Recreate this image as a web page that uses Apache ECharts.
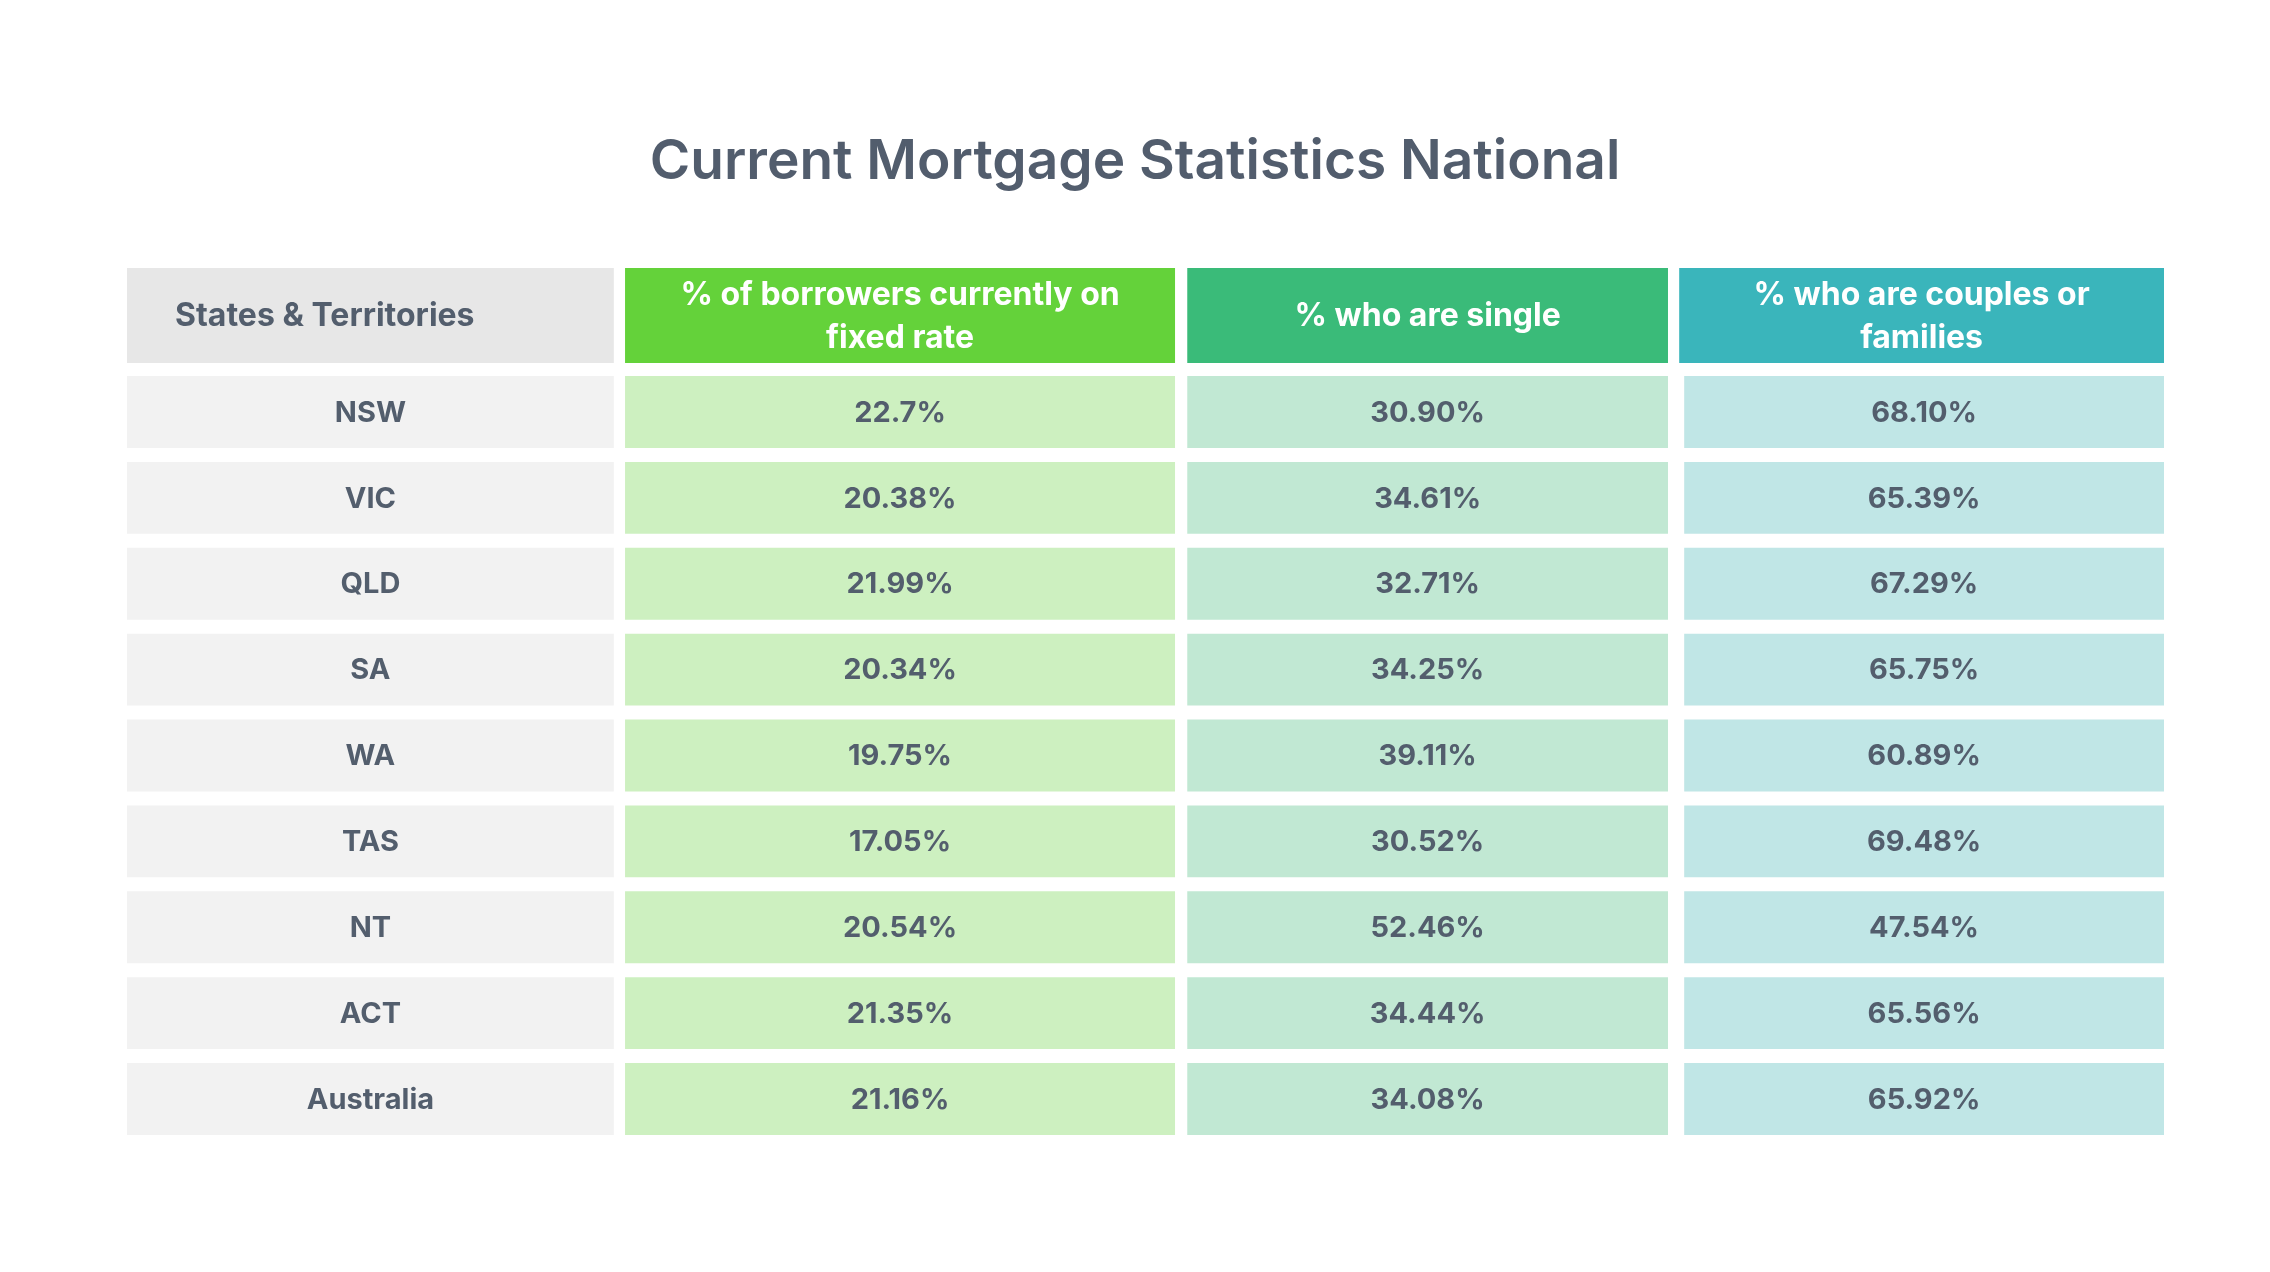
<!DOCTYPE html>
<html>
<head>
<meta charset="utf-8">
<title>Current Mortgage Statistics National</title>
<style>
  html, body { margin: 0; padding: 0; background: #ffffff; }
  #chart { width: 2270px; height: 1272px; }
</style>
</head>
<body>
<div id="chart"></div>
<script src="https://cdn.jsdelivr.net/npm/echarts@6/dist/echarts.min.js"></script>
<script>
// table data
var headers = ['States & Territories', '% of borrowers currently on\nfixed rate', '% who are single', '% who are couples or\nfamilies'];
var states = ['NSW', 'VIC', 'QLD', 'SA', 'WA', 'TAS', 'NT', 'ACT', 'Australia'];
var fixedRate = [22.7, 20.38, 21.99, 20.34, 19.75, 17.05, 20.54, 21.35, 21.16];
var single = [30.90, 34.61, 32.71, 34.25, 39.11, 30.52, 52.46, 34.44, 34.08];
var couples = [68.10, 65.39, 67.29, 65.75, 60.89, 69.48, 47.54, 65.56, 65.92];

// layout: column spans in % of table width, colours per column
var colSpan = [[0, 23.9], [24.45, 51.45], [52.05, 75.65], [76.2, 100]];
var headFill = ['#e7e7e7', '#64d23a', '#3abb79', '#3ab5bb'];
var bodyFill = ['#f2f2f2', '#cdf0c0', '#c1e8d3', '#c0e6e6'];
var textColor = '#535e6d';
var FONT = 'Inter, "Open Sans", sans-serif';

function fmt(v, col) {
  if (col === 1) return String(v) + '%';
  return v.toFixed(2) + '%';
}

// body cells: [col, row, text]
var bodyCells = [];
states.forEach(function (s, r) {
  bodyCells.push([0, r, s]);
  bodyCells.push([1, r, fmt(fixedRate[r], 1)]);
  bodyCells.push([2, r, fmt(single[r], 2)]);
  bodyCells.push([3, r, fmt(couples[r], 3)]);
});
var headCells = headers.map(function (h, i) { return [i, 0, h]; });

function cellRenderer(isHead) {
  return function (params, api) {
    var col = api.value(0);
    var row = api.value(1);
    var txt = isHead ? headCells[params.dataIndex][2] : bodyCells[params.dataIndex][2];
    var x0 = api.coord([colSpan[col][0], row])[0];
    var x1 = api.coord([colSpan[col][1], row])[0];
    var yc = api.coord([0, row])[1];
    var bandH = api.size([0, 1])[1];
    var h = isHead ? bandH : bandH - 14;
    if (!isHead && col === 3) x0 += 5;
    var leftHead = isHead && col === 0;
    return {
      type: 'group',
      children: [{
        type: 'rect',
        shape: { x: x0, y: yc - h / 2, width: x1 - x0, height: h },
        style: { fill: isHead ? headFill[col] : bodyFill[col] }
      }, {
        type: 'text',
        style: {
          text: txt,
          x: leftHead ? x0 + 48 : (x0 + x1) / 2,
          y: yc + 1,
          align: leftHead ? 'left' : 'center',
          verticalAlign: 'middle',
          fill: isHead && col > 0 ? '#ffffff' : textColor,
          font: '700 ' + (isHead ? 32 : 29) + 'px ' + FONT,
          lineHeight: 43
        }
      }]
    };
  };
}

var chart = echarts.init(document.getElementById('chart'));
chart.setOption({
  backgroundColor: '#ffffff',
  animation: false,
  title: {
    text: 'Current Mortgage Statistics National',
    left: 'center',
    top: 130,
    textStyle: { color: '#525d6d', fontSize: 55, fontWeight: 600, fontFamily: FONT }
  },
  grid: [
    { left: 127, right: 106, top: 268, height: 95 },
    { left: 127, right: 106, top: 369, height: 773 }
  ],
  xAxis: [
    { gridIndex: 0, type: 'value', min: 0, max: 100, show: false },
    { gridIndex: 1, type: 'value', min: 0, max: 100, show: false }
  ],
  yAxis: [
    { gridIndex: 0, type: 'category', data: ['head'], show: false },
    { gridIndex: 1, type: 'category', data: states, inverse: true, show: false }
  ],
  series: [{
    type: 'custom',
    xAxisIndex: 0,
    yAxisIndex: 0,
    renderItem: cellRenderer(true),
    data: headCells.map(function (c) { return [c[0], c[1]]; })
  }, {
    type: 'custom',
    xAxisIndex: 1,
    yAxisIndex: 1,
    renderItem: cellRenderer(false),
    data: bodyCells.map(function (c) { return [c[0], c[1]]; })
  }]
});
</script>
</body>
</html>
